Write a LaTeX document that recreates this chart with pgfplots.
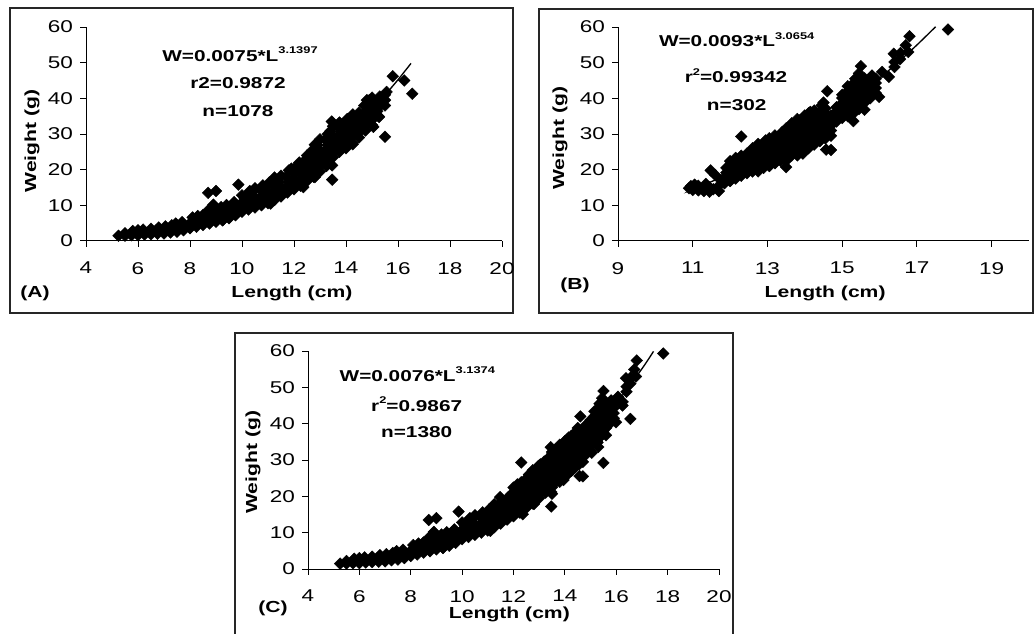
\documentclass[border=0pt]{standalone}
\usepackage{fontspec}
\setmainfont{Liberation Sans}[FakeStretch=1.32]
\usepackage{pgfplots}
\usepackage{pgfplotstable}
\pgfplotsset{compat=1.18}

\pgfplotsset{
  lw panel/.style={
    scale only axis,
    axis lines=left,
    axis line style={-, black, line width=0.75pt},
    tick style={black, line width=0.75pt},
    tick align=outside,
    major tick length=4.3pt,
    xmax=20, ymin=0, ymax=60,
    ytick={0,10,...,60},
    tick label style={font=\fontsize{12.8}{14}\selectfont},
    xticklabel style={yshift=-8pt},
    yticklabel style={xshift=-2pt},
    label style={font=\fontsize{12}{14}\selectfont\bfseries},
    /pgf/number format/assume math mode=true,
    clip=false,
  },
  fish/.style={only marks, mark=square*, mark size=3.1pt,
    mark options={rotate=45, fill=black, draw=black, line width=0.3pt}},
  fitline/.style={no marks, black, line width=1pt, smooth},
}

% weight-length pairs, period A
\pgfplotstableread[row sep=\\]{
L W\\
5.25 1.5\\ 5.5 1.5\\ 5.5 2.2\\ 5.75 1.6\\ 5.8 2.8\\ 6.0 1.6\\ 6.0 3.0\\
6.25 1.8\\ 6.2 3.2\\ 6.5 1.9\\ 6.5 3.4\\ 6.75 2.0\\ 6.7 3.0\\ 6.8 3.8\\
7.0 2.1\\ 7.0 3.1\\ 7.05 4.1\\ 7.25 2.4\\ 7.2 3.5\\ 7.3 4.4\\
7.5 2.6\\ 7.5 3.8\\ 7.45 4.9\\ 7.75 3.0\\ 7.8 4.2\\ 7.7 5.3\\
8.0 3.6\\ 8.0 5.0\\ 8.1 6.6\\
8.25 4.0\\ 8.2 5.5\\ 8.3 7.0\\ 8.5 4.5\\ 8.5 5.9\\ 8.5 7.3\\
8.75 4.9\\ 8.7 6.3\\ 8.8 7.6\\ 8.7 8.6\\ 9.0 5.4\\ 9.0 6.8\\ 9.0 8.2\\ 8.9 9.8\\
9.25 5.8\\ 9.2 7.2\\ 9.3 8.5\\ 9.2 9.5\\ 9.5 6.4\\ 9.5 7.8\\ 9.5 9.0\\ 9.4 10.1\\
9.75 7.2\\ 9.7 8.5\\ 9.8 9.8\\ 9.7 10.9\\
10.0 8.2\\ 10.0 9.5\\ 10.0 10.8\\ 10.1 12.0\\ 10.0 12.8\\
10.25 8.8\\ 10.2 10.1\\ 10.3 11.5\\ 10.2 13.0\\ 10.3 14.0\\
10.5 9.4\\ 10.5 10.8\\ 10.5 12.3\\ 10.4 13.8\\ 10.5 14.8\\
10.75 10.0\\ 10.7 11.4\\ 10.8 12.9\\ 10.7 14.5\\ 10.8 15.6\\
11.0 10.6\\ 11.0 12.0\\ 11.0 13.5\\ 10.9 14.8\\ 11.0 15.7\\ 11.05 16.4\\
11.25 11.5\\ 11.2 12.9\\ 11.3 14.3\\ 11.2 15.7\\ 11.3 16.8\\ 11.25 17.8\\
11.5 12.5\\ 11.5 13.9\\ 11.5 15.3\\ 11.4 16.8\\ 11.5 18.3\\
11.75 13.6\\ 11.7 15.0\\ 11.8 16.5\\ 11.7 18.0\\ 11.8 19.8\\
12.0 14.5\\ 12.0 15.9\\ 12.0 17.4\\ 12.0 18.9\\ 11.9 20.3\\ 12.1 21.0\\
12.25 15.5\\ 12.2 16.9\\ 12.3 18.4\\ 12.2 19.9\\ 12.3 21.3\\ 12.2 22.0\\
12.5 16.8\\ 12.5 18.2\\ 12.5 19.6\\ 12.5 21.0\\ 12.4 22.5\\ 12.5 24.0\\
12.75 18.0\\ 12.7 19.4\\ 12.8 20.9\\ 12.7 22.4\\ 12.8 23.9\\ 12.7 25.4\\ 12.8 27.0\\
13.0 19.5\\ 13.0 20.9\\ 13.0 22.4\\ 13.0 23.9\\ 13.0 25.4\\ 12.9 26.9\\ 13.0 28.5\\
13.25 21.0\\ 13.2 22.4\\ 13.3 23.9\\ 13.2 25.4\\ 13.3 26.9\\ 13.2 28.4\\ 13.3 30.0\\
13.5 23.5\\ 13.5 24.9\\ 13.5 26.4\\ 13.5 27.9\\ 13.5 29.4\\ 13.4 30.8\\ 13.5 32.2\\ 13.45 33.5\\
13.75 25.0\\ 13.7 26.4\\ 13.8 27.8\\ 13.7 29.2\\ 13.8 30.6\\ 13.7 32.0\\ 13.75 33.2\\
14.0 26.0\\ 14.0 27.4\\ 14.0 28.8\\ 14.0 30.2\\ 14.0 31.6\\ 14.0 33.0\\ 14.05 34.2\\
14.25 27.5\\ 14.2 28.9\\ 14.3 30.3\\ 14.2 31.7\\ 14.3 33.1\\ 14.2 34.5\\ 14.26 35.5\\
14.5 29.0\\ 14.5 30.4\\ 14.5 31.8\\ 14.5 33.2\\ 14.5 34.6\\ 14.5 36.0\\
14.75 31.0\\ 14.7 32.4\\ 14.8 33.8\\ 14.7 35.2\\ 14.8 36.6\\ 14.7 38.0\\ 14.8 39.5\\
15.0 32.5\\ 15.0 33.9\\ 15.0 35.3\\ 15.0 36.7\\ 15.0 38.1\\ 14.9 39.5\\ 15.0 40.2\\
15.25 35.0\\ 15.2 36.4\\ 15.3 37.8\\ 15.2 39.2\\ 15.3 40.5\\
15.5 38.0\\ 15.5 39.5\\ 15.5 41.0\\ 15.56 41.8\\
8.7 13.5\\ 9.0 14.0\\ 9.86 15.8\\ 8.9 10.2\\ 9.26 5.8\\ 11.1 10.5\\ 12.36 15.1\\
12.8 17.9\\ 13.47 17.2\\ 13.47 21.2\\ 14.26 27.1\\ 15.05 32.0\\ 15.27 34.8\\
15.5 29.2\\ 15.8 46.2\\ 16.24 45.0\\ 16.55 41.3\\
}\dataA

% weight-length pairs, period B
\pgfplotstableread[row sep=\\]{
L W\\
10.9 14.8\\ 10.95 15.4\\ 11.0 14.3\\ 11.05 15.8\\ 11.15 14.2\\ 11.15 15.5\\
11.3 14.0\\ 11.3 15.2\\ 11.35 16.0\\ 11.45 13.8\\ 11.45 15.0\\ 11.48 19.8\\
11.55 14.5\\ 11.6 18.5\\ 11.7 14.0\\ 11.7 15.5\\ 11.75 17.0\\
11.85 16.2\\ 11.85 17.8\\ 11.9 19.2\\ 11.9 20.5\\
12.0 16.8\\ 12.0 18.2\\ 12.0 19.6\\ 12.05 21.0\\ 12.0 22.4\\
12.15 17.5\\ 12.15 19.0\\ 12.15 20.4\\ 12.2 21.8\\ 12.15 23.3\\
12.3 18.3\\ 12.3 19.7\\ 12.3 21.1\\ 12.3 22.5\\ 12.3 23.9\\ 12.3 29.3\\
12.45 19.0\\ 12.45 20.4\\ 12.45 21.8\\ 12.5 23.2\\ 12.45 24.5\\
12.6 19.5\\ 12.6 20.9\\ 12.6 22.3\\ 12.6 23.7\\ 12.65 25.0\\ 12.6 26.0\\
12.75 19.5\\ 12.8 20.9\\ 12.75 22.3\\ 12.8 23.7\\ 12.75 25.1\\ 12.8 26.5\\ 12.75 27.2\\
12.9 20.5\\ 12.9 21.9\\ 12.9 23.3\\ 12.9 24.7\\ 12.9 26.1\\ 12.9 27.5\\ 12.95 28.2\\
13.05 21.0\\ 13.05 22.4\\ 13.05 23.8\\ 13.05 25.2\\ 13.05 26.6\\ 13.05 28.0\\ 13.05 28.8\\
13.2 21.8\\ 13.2 23.2\\ 13.2 24.6\\ 13.2 26.0\\ 13.2 27.4\\ 13.2 28.8\\ 13.2 29.6\\
13.35 22.5\\ 13.35 23.9\\ 13.35 25.3\\ 13.35 26.7\\ 13.35 28.1\\ 13.35 29.5\\ 13.4 30.6\\
13.5 20.7\\ 13.5 22.5\\ 13.5 23.9\\ 13.5 25.3\\ 13.5 26.7\\ 13.5 28.1\\ 13.5 29.5\\ 13.55 30.9\\ 13.5 31.6\\
13.65 24.0\\ 13.65 25.4\\ 13.65 26.8\\ 13.65 28.2\\ 13.65 29.6\\ 13.65 31.0\\ 13.7 32.4\\ 13.65 33.0\\
13.8 24.0\\ 13.8 25.4\\ 13.8 26.8\\ 13.8 28.2\\ 13.8 29.6\\ 13.8 31.0\\ 13.8 32.4\\ 13.85 33.8\\ 13.8 34.2\\
13.95 24.5\\ 13.95 25.9\\ 13.95 27.3\\ 13.95 28.7\\ 13.95 30.1\\ 13.95 31.5\\ 13.95 32.9\\ 13.95 34.3\\ 14.0 35.2\\
14.1 26.0\\ 14.1 27.4\\ 14.1 28.8\\ 14.1 30.2\\ 14.1 31.6\\ 14.1 33.0\\ 14.1 34.4\\ 14.1 35.8\\ 14.15 36.2\\
14.25 27.0\\ 14.25 28.4\\ 14.25 29.8\\ 14.25 31.2\\ 14.25 32.6\\ 14.25 33.8\\ 14.25 35.2\\ 14.25 36.6\\
14.4 28.0\\ 14.4 29.4\\ 14.4 30.8\\ 14.4 32.2\\ 14.4 33.6\\ 14.4 35.0\\ 14.45 36.5\\ 14.45 38.0\\
14.55 28.8\\ 14.55 30.2\\ 14.55 31.6\\ 14.55 33.0\\ 14.55 34.4\\ 14.55 35.8\\ 14.55 37.2\\ 14.5 38.8\\
14.6 42.0\\ 14.57 25.6\\
14.7 29.5\\ 14.7 31.0\\ 14.7 32.4\\ 14.7 33.8\\ 14.7 35.2\\ 14.7 25.5\\
14.85 33.5\\ 14.85 34.9\\ 14.85 36.3\\ 14.85 37.5\\
15.0 34.5\\ 15.0 35.9\\ 15.0 37.3\\ 15.0 38.7\\ 15.0 40.1\\ 15.0 41.0\\
15.15 35.0\\ 15.15 36.4\\ 15.15 37.8\\ 15.15 39.2\\ 15.15 40.6\\ 15.15 42.0\\ 15.15 43.4\\
15.3 33.6\\ 15.3 35.8\\ 15.3 37.2\\ 15.3 38.6\\ 15.3 40.0\\ 15.3 41.4\\ 15.3 42.8\\ 15.3 44.2\\ 15.35 45.5\\
15.45 37.0\\ 15.45 38.4\\ 15.45 39.8\\ 15.45 41.2\\ 15.45 42.6\\ 15.45 44.0\\ 15.45 45.5\\ 15.45 47.0\\ 15.5 49.0\\
15.6 36.8\\ 15.6 38.8\\ 15.6 40.2\\ 15.6 41.6\\ 15.6 43.0\\ 15.6 44.4\\ 15.6 45.6\\
15.75 40.0\\ 15.75 41.4\\ 15.75 42.8\\ 15.75 44.2\\ 15.75 45.6\\ 15.8 46.4\\
15.9 41.5\\ 15.9 42.9\\ 15.9 44.3\\ 15.9 45.5\\
15.99 40.4\\ 16.07 47.4\\ 16.25 46.0\\
16.4 48.8\\ 16.4 50.2\\ 16.38 52.5\\ 16.55 51.0\\ 16.56 52.7\\ 16.7 54.9\\ 16.77 53.0\\ 16.8 57.4\\
17.83 59.3\\
}\dataB

\begin{document}
\begin{tikzpicture}
\useasboundingbox (0,0) rectangle (777pt,474.75pt);
\tikzset{boxline/.style={line width=0.8pt, black!85}}
\draw[boxline] (7.5pt,240pt) rectangle (384.75pt,468.75pt);
\draw[boxline] (404.25pt,240pt) rectangle (774.75pt,468pt);
\draw[boxline] (176.25pt,-2pt) -- (176.25pt,225pt) -- (549.75pt,225pt) -- (549.75pt,-2pt);

% (A)
\begin{axis}[lw panel, at={(64.5pt,294pt)}, anchor=south west,
  width=312pt, height=160.5pt,
  xmin=4, xtick={4,6,...,20},
  xlabel={Length (cm)}, ylabel={Weight (g)},
  xlabel style={at={(axis description cs:0.495,-0.243)}, anchor=center},
  ylabel style={at={(axis description cs:-0.13,0.467)}, anchor=center}]
\addplot[fish] table[x=L,y=W]{\dataA};
\addplot[fitline] coordinates {(5.3,1.41)(6,2.08)(7,3.38)(8,5.13)(9,7.43)(10,10.35)
  (11,13.96)(12,18.34)(13,23.58)(14,29.76)(15,36.95)(15.5,40.93)(16,45.22)(16.5,49.8)};
\end{axis}

% (B)
\begin{axis}[lw panel, at={(463.5pt,294pt)}, anchor=south west,
  width=308.25pt, height=160.5pt,
  xmin=9, xtick={9,11,...,19},
  xlabel={Length (cm)}, ylabel={Weight (g)},
  xlabel style={at={(axis description cs:0.504,-0.243)}, anchor=center},
  ylabel style={at={(axis description cs:-0.141,0.48)}, anchor=center}]
\addplot[fish] table[x=L,y=W]{\dataB};
\addplot[fitline] coordinates {(10.9,14.08)(11,14.48)(12,18.91)(13,24.16)(14,30.33)
  (15,37.48)(16,45.67)(16.5,50.16)(17,54.96)(17.5,60.07)};
\end{axis}

% (C): both periods pooled
\begin{axis}[lw panel, at={(231pt,48pt)}, anchor=south west,
  width=308.25pt, height=163.5pt,
  xmin=4, xtick={4,6,...,20},
  xlabel={Length (cm)}, ylabel={Weight (g)},
  xlabel style={at={(axis description cs:0.49,-0.206)}, anchor=center},
  ylabel style={at={(axis description cs:-0.134,0.49)}, anchor=center}]
\addplot[fish] table[x=L,y=W]{\dataA};
\addplot[fish] table[x=L,y=W]{\dataB};
\addplot[fitline] coordinates {(5.3,1.42)(6,2.10)(7,3.41)(8,5.18)(9,7.49)(10,10.43)
  (11,14.07)(12,18.48)(13,23.75)(14,29.97)(15,37.21)(16,45.55)(17,55.11)(17.45,59.9)};
\end{axis}

\tikzset{eq/.style={font=\fontsize{11.8}{14}\selectfont\bfseries, anchor=base, inner sep=0pt},
  panel/.style={font=\fontsize{12}{14}\selectfont\bfseries}}
\newcommand{\sps}[1]{\raisebox{5.8pt}{\fontsize{7.3}{8}\selectfont #1}}

\node[eq] at (180pt,428.5pt) {W=0.0075*L\sps{3.1397}};
\node[eq] at (178.5pt,408pt) {r2=0.9872};
\node[eq] at (178.5pt,387.2pt) {n=1078};

\node[eq] at (552.5pt,439.5pt) {W=0.0093*L\sps{3.0654}};
\node[eq] at (552pt,412.5pt) {r\sps{2}=0.99342};
\node[eq] at (552.5pt,391.7pt) {n=302};

\node[eq] at (313pt,189pt) {W=0.0076*L\sps{3.1374}};
\node[eq] at (312.5pt,166.5pt) {r\sps{2}=0.9867};
\node[eq] at (312.5pt,146.5pt) {n=1380};

\node[panel] at (26.25pt,255pt) {(A)};
\node[panel] at (431.25pt,261pt) {(B)};
\node[panel] at (204.75pt,18.75pt) {(C)};
\end{tikzpicture}
\end{document}
